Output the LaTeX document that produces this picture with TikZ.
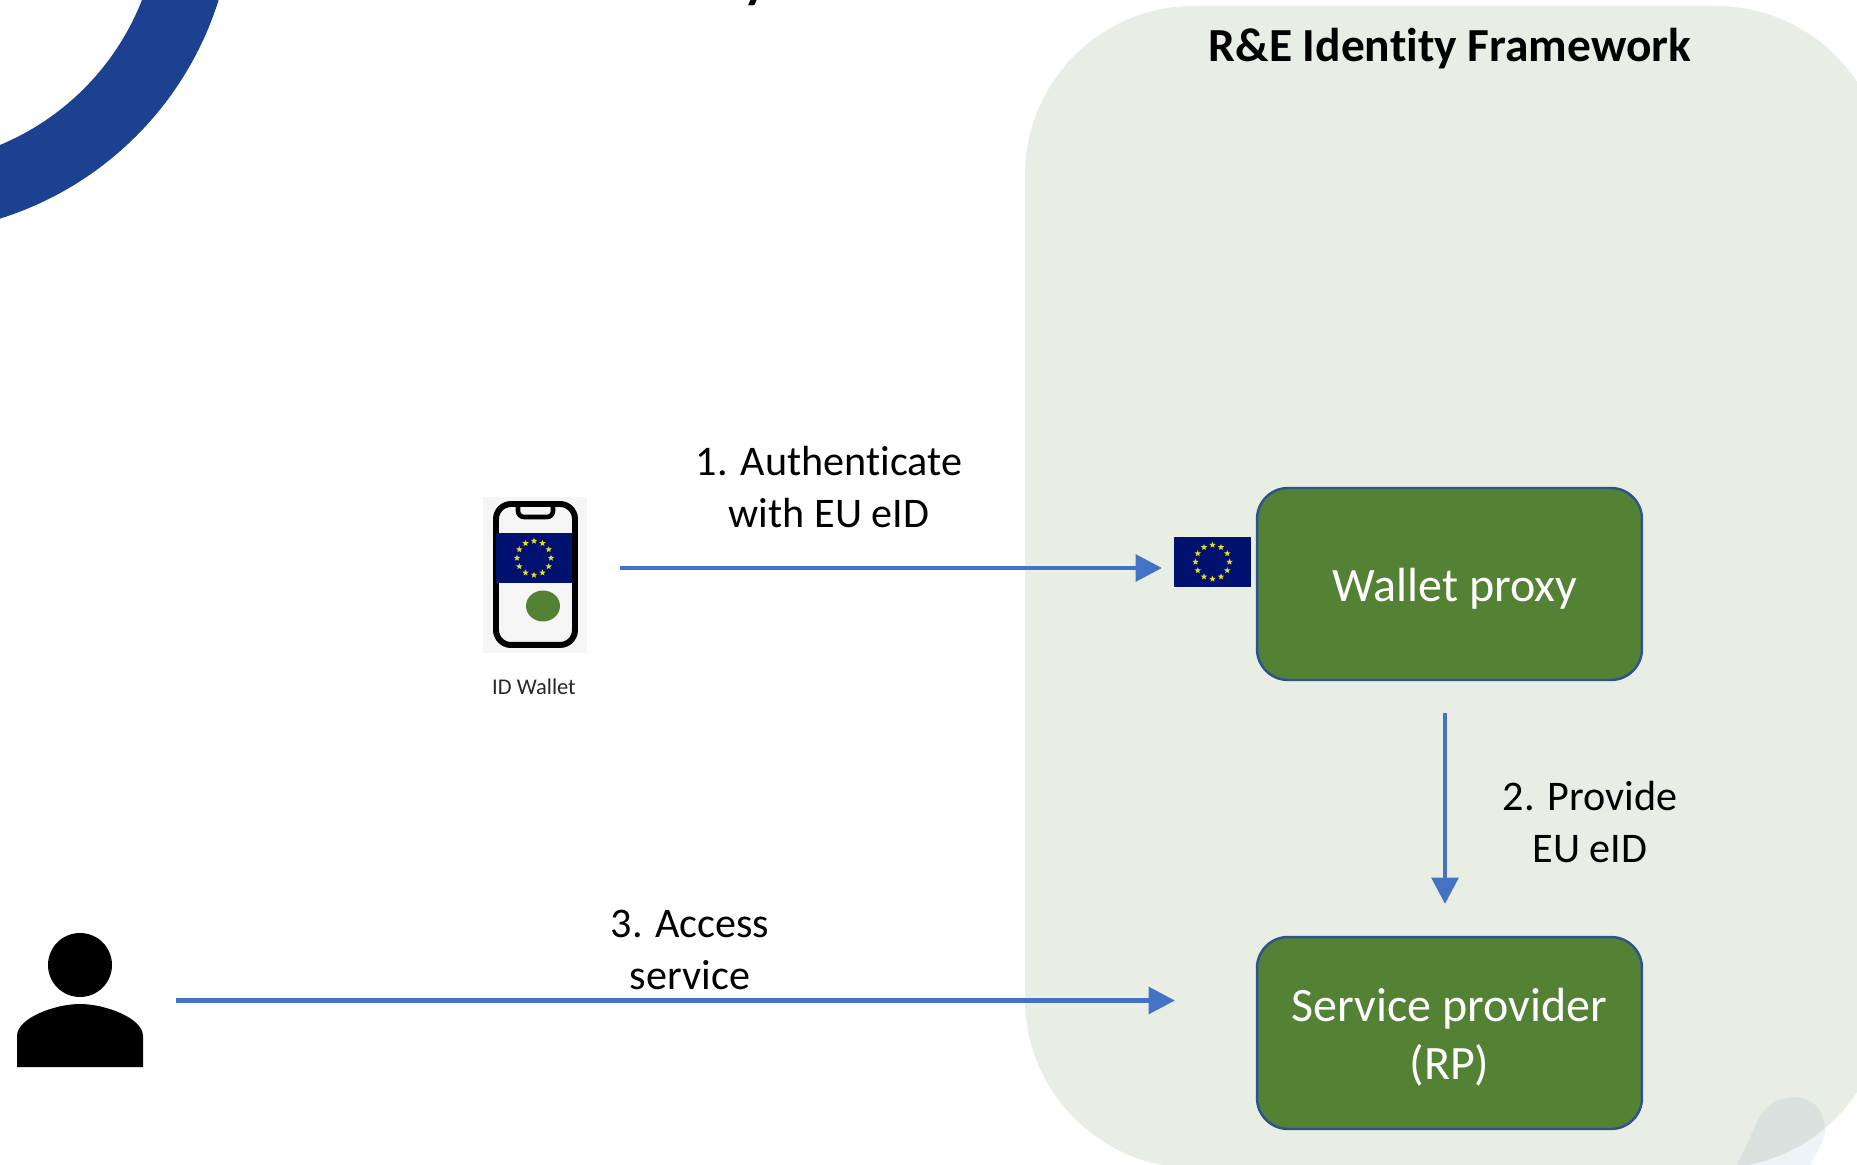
\documentclass[tikz,border=0pt]{standalone}
\usepackage{fontspec}
\setmainfont[Ligatures=NoCommon]{Carlito}
\usepackage{tikz}
\usetikzlibrary{arrows.meta}
\usetikzlibrary{shapes.geometric}

\definecolor{panelgreen}{HTML}{E9EEE4}
\definecolor{boxgreen}{HTML}{548235}
\definecolor{boxline}{HTML}{2F528F}
\definecolor{arrowblue}{HTML}{4472C4}
\definecolor{arcblue}{HTML}{1C4190}
\definecolor{blobblue}{HTML}{2A5AB0}
\definecolor{flagblue}{HTML}{001170}
\definecolor{flagstar}{HTML}{E9DD22}

\tikzset{
  service/.style={draw=boxline,line width=1.4pt,fill=boxgreen,rounded corners=0.62cm,
    minimum width=7.7cm,minimum height=3.84cm},
  boxlabel/.style={text=white,align=center,font=\fontsize{27.3}{33}\selectfont},
  flow/.style={draw=arrowblue,line width=2.8pt,-{Triangle[length=15pt,width=15pt]}},
  steplabel/.style={align=center,font=\fontsize{24}{29.3}\selectfont},
  eustar/.style={star,star points=5,star point ratio=2.4,fill=flagstar,inner sep=0pt,minimum size=3.8pt},
  euflag/.pic={
    \node[fill=flagblue,minimum width=1.53cm,minimum height=1cm,inner sep=0pt] (-bg) at (0,0) {};
    \foreach \k in {1,...,12} {
      \node[eustar] (-s\k) at (\k*30:0.34cm) {};
    }
  }
}

\begin{document}
\begin{tikzpicture}[x=0.02cm,y=-0.02cm]
    \clip (0,0) rectangle (1857,1165);
    % corner arc
    \fill[arcblue] (222.6,-13.6) arc[start angle=15,end angle=75,radius=334]
      -- (-11.1,149.3) arc[start angle=70,end angle=20,radius=260] -- cycle;
    % right panel
    \fill[panelgreen,rounded corners=3.38cm] (1025,6) rectangle (1885,1168);
    \fill[blobblue,opacity=0.08] (1737,1165)
      -- (1758,1120) .. controls (1770,1090) and (1825,1085) .. (1825,1132)
      .. controls (1825,1140) and (1818,1150) .. (1810,1165) -- cycle;
    \node[font=\fontsize{27}{33}\bfseries\selectfont] (title) at (1450,49) {R\&E Identity Framework};
    \node[anchor=base west,font=\fontsize{30}{36}\bfseries\selectfont] (cuttitle) at (737,-2) {y};
    % boxes
    \node[service] (wallet) at (1449.5,584) {};
    \node[boxlabel] (walletlabel) at (1455,589) {Wallet proxy};
    \node[service] (provider) at (1449.5,1033) {};
    \node[boxlabel] (providerlabel) at (1449.5,1037) {Service provider\\(RP)};
    \pic (proxyflag) at (1212.5,562) {euflag};
    % phone
    \node[fill=black!4,minimum width=2.08cm,minimum height=3.12cm,inner sep=0pt] (phonebg) at (535,575) {};
    \node[draw=black,line width=3.4pt,rounded corners=0.3cm,minimum width=1.58cm,minimum height=2.82cm,inner sep=0pt] (phone) at (535.5,574.5) {};
    \draw[black,line width=2.6pt,rounded corners=0.12cm] (518,504) -- (518,517) -- (553,517) -- (553,504);
    \pic (phoneflag) at (534,558) {euflag};
    \node[ellipse,fill=boxgreen,minimum width=0.68cm,minimum height=0.62cm,inner sep=0pt] (dot) at (543,606) {};
    \node[text=black!85,font=\fontsize{12.8}{15}\selectfont] (idwallet) at (534,687) {ID Wallet};
    % person
    \fill[black] (80,965) circle[radius=32];
    \fill[black] (17,1067) -- (17,1036) .. controls (17,1018) and (55,1004) .. (80,1004)
      .. controls (105,1004) and (143,1018) .. (143,1036) -- (143,1067) -- cycle;
    % connectors
    \coordinate (phoneout) at (620,568);
    \coordinate (flagin) at (1162,568);
    \coordinate (walletout) at (1445,713);
    \coordinate (providerin) at (1445,904);
    \coordinate (personout) at (176,1000.5);
    \coordinate (providerleft) at (1175,1000.5);
    \draw[flow] (phoneout) -- (flagin);
    \draw[flow] (walletout) -- (providerin);
    \draw[flow] (personout) -- (providerleft);
    \node[steplabel] (step1) at (829,487) {1. Authenticate\\with EU eID};
    \node[steplabel] (step2) at (1590,822) {2. Provide\\EU eID};
    \node[steplabel] (step3) at (690,950) {3. Access\\service};
\end{tikzpicture}
\end{document}
